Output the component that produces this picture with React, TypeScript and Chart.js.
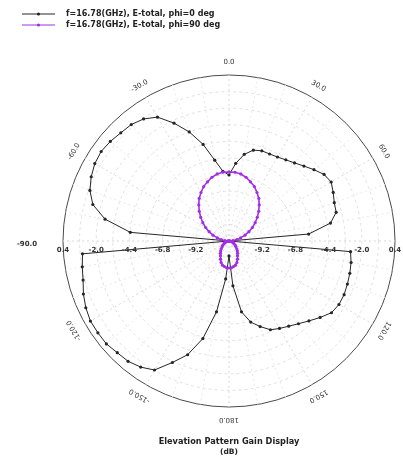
import { useEffect, useRef } from 'react';
import { Chart, registerables } from 'chart.js';

Chart.register(...registerables);

// Elevation angle (deg), clockwise from top
const ANGLES = [
  0, 5, 10, 15, 20, 25, 30, 35, 40, 45, 50, 55, 60, 65, 70, 75, 80, 85, 90,
  95, 100, 105, 110, 115, 120, 125, 130, 135, 140, 145, 150, 155, 160, 165, 170, 175, 180,
  -175, -170, -165, -160, -155, -150, -145, -140, -135, -130, -125, -120, -115, -110, -105, -100, -95,
  -90, -85, -80, -75, -70, -65, -60, -55, -50, -45, -40, -35, -30, -25, -20, -15, -10, -5,
];

// Gain (dB), phi = 0 deg
const PHI0 = [
  -6.83, -5.96, -5.24, -4.8, -4.66, -4.66, -4.59, -4.44, -4.23, -3.94, -3.58, -3.21, -3.07, -3.29, -3.5, -3.58, -4.15, -5.82, -11.6,
  -2.78, -2.64, -2.56, -2.49, -2.42, -2.42, -2.56, -3.0, -3.43, -3.79, -4.08, -4.3, -4.52, -5.02, -5.53, -6.4, -8.35, -10.52,
  -8.85, -6.4, -4.3, -2.85, -1.91, -0.83, -0.47, -0.25, -0.18, -0.03, -0.03, -0.03, -0.18, -0.4, -0.68, -0.83, -0.97,
  -11.6, -4.44, -2.5, -1.41, -0.9, -0.61, -0.4, -0.32, -0.4, -0.54, -0.61, -0.83, -1.26, -2.2, -3.21, -4.37, -5.67, -6.54,
];

// Gain (dB), phi = 90 deg
const PHI90 = [
  -6.61, -6.61, -6.68, -6.83, -7.05, -7.26, -7.55, -7.84, -8.2, -8.56, -8.93, -9.29, -9.65, -10.01, -10.37, -10.73, -11.02, -11.31, -11.53,
  -11.53, -11.46, -11.38, -11.31, -11.24, -11.17, -11.02, -10.95, -10.8, -10.66, -10.52, -10.37, -10.15, -9.94, -9.79, -9.72, -9.65, -9.65,
  -9.65, -9.72, -9.79, -9.94, -10.15, -10.37, -10.52, -10.66, -10.8, -10.95, -11.02, -11.17, -11.24, -11.31, -11.38, -11.46, -11.53,
  -11.53, -11.31, -11.02, -10.73, -10.37, -10.01, -9.65, -9.29, -8.93, -8.56, -8.2, -7.84, -7.55, -7.26, -7.05, -6.83, -6.68, -6.61,
];

const SERIES_NAMES = ['f=16.78(GHz), E-total, phi=0 deg', 'f=16.78(GHz), E-total, phi=90 deg'];

const R_MIN = -11.6;
const R_MAX = 0.4;
const R_STEP = 1.2;

const ANGLE_TICKS = [0, 30, 60, 120, 150, 180, -150, -120, -60, -30];
const ANGLE_TICK_LABELS = ['0.0', '30.0', '60.0', '120.0', '150.0', '180.0', '-150.0', '-120.0', '-60.0', '-30.0'];
const SIDE_ANGLE_LABEL = '-90.0';

const RADIAL_TICKS = [-9.2, -6.8, -4.4, -2.0, 0.4];
const RADIAL_TICK_LABELS = ['-9.2', '-6.8', '-4.4', '-2.0', '0.4'];

const TITLE = 'Elevation Pattern Gain Display';
const SUBTITLE = '(dB)';

const BLACK = '#262626';
const PURPLE = '#a22ee6';
const FONT = '"DejaVu Sans", sans-serif';

const overlay = {
  id: 'overlay',
  afterDraw(chart: any) {
    const ctx = chart.ctx as CanvasRenderingContext2D;
    const s = chart.scales.r;
    const R = s.drawingArea;
    const cx = s.xCenter;
    const cy = s.yCenter;
    ctx.save();

    // angle labels (tangential)
    ctx.fillStyle = '#333';
    ctx.font = `7px ${FONT}`;
    ctx.textAlign = 'center';
    ctx.textBaseline = 'middle';
    ANGLE_TICKS.forEach((a, i) => {
      const idx = ANGLES.indexOf(a);
      const p = s.getPointPosition(idx, R + 13);
      ctx.save();
      ctx.translate(p.x, p.y);
      ctx.rotate((a * Math.PI) / 180);
      ctx.fillText(ANGLE_TICK_LABELS[i], 0, 0);
      ctx.restore();
    });
    ctx.font = `bold 7px ${FONT}`;
    ctx.fillText(SIDE_ANGLE_LABEL, cx - R - 36, cy + 3);

    // radial tick labels along the horizontal axis
    RADIAL_TICKS.forEach((v, i) => {
      const d = s.getDistanceFromCenterForValue(v);
      ctx.fillText(RADIAL_TICK_LABELS[i], cx - d, cy + 9);
      ctx.fillText(RADIAL_TICK_LABELS[i], cx + d, cy + 9);
    });

    // legend
    const colors = [BLACK, PURPLE];
    ctx.font = `bold 8px ${FONT}`;
    ctx.textAlign = 'left';
    SERIES_NAMES.forEach((name, i) => {
      const y = 14 + i * 11;
      ctx.strokeStyle = colors[i];
      ctx.lineWidth = 1;
      ctx.beginPath();
      ctx.moveTo(22, y);
      ctx.lineTo(55, y);
      ctx.stroke();
      ctx.fillStyle = colors[i];
      ctx.beginPath();
      ctx.arc(38.5, y, 1.6, 0, Math.PI * 2);
      ctx.fill();
      ctx.fillStyle = '#222';
      ctx.fillText(name, 66, y);
    });

    // title
    ctx.textAlign = 'center';
    ctx.fillStyle = '#222';
    ctx.font = `bold 8.2px ${FONT}`;
    ctx.fillText(TITLE, cx, 442);
    ctx.font = `bold 7.5px ${FONT}`;
    ctx.fillText(SUBTITLE, cx, 452);
    ctx.restore();
  },
};

export default function App() {
  const ref = useRef<HTMLCanvasElement>(null);
  useEffect(() => {
    const canvas = ref.current!;
    const nTicks = Math.round((R_MAX - R_MIN) / R_STEP);
    const chart = new Chart(canvas, {
      type: 'radar',
      data: {
        labels: ANGLES.map(String),
        datasets: [
          {
            label: SERIES_NAMES[0],
            data: PHI0,
            borderColor: BLACK,
            backgroundColor: BLACK,
            borderWidth: 1,
            pointRadius: 1.6,
            pointBorderWidth: 0,
            pointBackgroundColor: BLACK,
            fill: false,
            order: 1,
          },
          {
            label: SERIES_NAMES[1],
            data: PHI90,
            borderColor: PURPLE,
            backgroundColor: PURPLE,
            borderWidth: 1.6,
            pointRadius: 1.6,
            pointBorderWidth: 0,
            pointBackgroundColor: PURPLE,
            fill: false,
            order: 0,
          },
        ],
      },
      options: {
        responsive: false,
        animation: false,
        events: [],
        layout: { padding: { left: 63, right: 8, top: 75, bottom: 49 } },
        plugins: {
          legend: { display: false },
          title: { display: false },
          tooltip: { enabled: false },
        },
        elements: { line: { tension: 0 } },
        scales: {
          r: {
            min: R_MIN,
            max: R_MAX,
            beginAtZero: false,
            ticks: { display: false, stepSize: R_STEP },
            pointLabels: { display: false },
            grid: {
              circular: true,
              color: (c: any) => (c.index === nTicks ? '#4a4a4a' : '#e0e0e0'),
              lineWidth: 1,
            },
            border: {
              dash: (c: any) => (c.index === nTicks ? [] : [3, 3]),
            },
            angleLines: {
              color: (c: any) => {
                const a = ANGLES[c.index];
                if (a % 30 === 0) return '#d8d8d8';
                if (a % 10 === 0) return '#e8e8e8';
                return 'transparent';
              },
              lineWidth: (c: any) => (ANGLES[c.index] % 10 === 0 ? 1 : 0),
              borderDash: [2, 3],
            },
          },
        },
      } as any,
      plugins: [overlay],
    });
    return () => chart.destroy();
  }, []);
  return (
    <div style={{ position: 'fixed', left: 0, top: 0, width: 403, height: 456, background: '#fff' }}>
      <canvas ref={ref} width={403} height={456} style={{ display: 'block' }} />
    </div>
  );
}
